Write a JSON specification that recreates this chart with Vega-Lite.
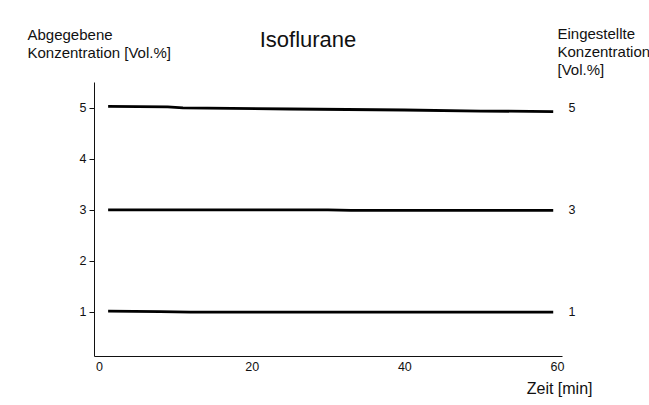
{
  "$schema": "https://vega.github.io/schema/vega-lite/v6.json",
  "width": 468,
  "height": 274,
  "autosize": {"type": "none"},
  "padding": {"left": 94, "top": 82, "right": 87, "bottom": 49},
  "background": "white",
  "config": {
    "font": "Liberation Sans",
    "view": {"stroke": null},
    "axis": {
      "grid": false,
      "domainColor": "#111",
      "domainWidth": 1,
      "tickColor": "#111",
      "labelColor": "#111",
      "titleColor": "#111",
      "labelFont": "Liberation Sans",
      "titleFont": "Liberation Sans",
      "labelFontSize": 12.5,
      "titleFontWeight": "normal"
    }
  },
  "title": {
    "text": "Isoflurane",
    "fontSize": 22,
    "fontWeight": "normal",
    "color": "#111",
    "anchor": "middle",
    "frame": "group",
    "dx": -20,
    "offset": -43,
    "baseline": "alphabetic"
  },
  "data": {
    "values": [
      {"t": 1.2, "c": 5.03, "set": 5},
      {"t": 9, "c": 5.02, "set": 5},
      {"t": 11, "c": 5.0, "set": 5},
      {"t": 25, "c": 4.98, "set": 5},
      {"t": 40, "c": 4.96, "set": 5},
      {"t": 50, "c": 4.94, "set": 5},
      {"t": 59.5, "c": 4.93, "set": 5},
      {"t": 1.2, "c": 3.0, "set": 3},
      {"t": 30, "c": 3.0, "set": 3},
      {"t": 33, "c": 2.99, "set": 3},
      {"t": 59.5, "c": 2.99, "set": 3},
      {"t": 1.2, "c": 1.01, "set": 1},
      {"t": 8, "c": 1.0, "set": 1},
      {"t": 12, "c": 0.99, "set": 1},
      {"t": 59.5, "c": 0.99, "set": 1}
    ]
  },
  "resolve": {"axis": {"y": "independent"}},
  "layer": [
    {
      "mark": {"type": "line", "color": "#000", "strokeWidth": 2.8},
      "encoding": {
        "x": {
          "field": "t",
          "type": "quantitative",
          "scale": {"domain": [-0.65, 60.65], "nice": false, "zero": false},
          "axis": {
            "values": [0, 20, 40, 60],
            "ticks": false,
            "tickSize": 0,
            "labelPadding": 4,
            "labelFlush": false,
            "title": "Zeit [min]",
            "titleFontSize": 16,
            "titleAnchor": null,
            "titleAlign": "right",
            "titleBaseline": "alphabetic",
            "titleX": 498,
            "titleY": 37
          }
        },
        "y": {
          "field": "c",
          "type": "quantitative",
          "scale": {"domain": [0.13, 5.51], "nice": false, "zero": false},
          "axis": {
            "orient": "left",
            "values": [1, 2, 3, 4, 5],
            "tickSize": 5,
            "labelPadding": 3,
            "title": ["Abgegebene", "Konzentration [Vol.%]"],
            "titleFontSize": 15,
            "titleLineHeight": 18,
            "titleAngle": 0,
            "titleAlign": "left",
            "titleBaseline": "top",
            "titleX": -67,
            "titleY": -55
          }
        },
        "detail": {"field": "set", "type": "nominal"}
      }
    },
    {
      "mark": {"type": "line", "opacity": 0},
      "encoding": {
        "x": {"field": "t", "type": "quantitative"},
        "y": {
          "field": "c",
          "type": "quantitative",
          "axis": {
            "orient": "right",
            "values": [1, 3, 5],
            "domain": false,
            "ticks": false,
            "tickSize": 0,
            "labelPadding": 6,
            "title": ["Eingestellte", "Konzentration", "[Vol.%]"],
            "titleFontSize": 15,
            "titleLineHeight": 18,
            "titleAngle": 0,
            "titleAlign": "left",
            "titleBaseline": "top",
            "titleX": -5,
            "titleY": -56
          }
        },
        "detail": {"field": "set", "type": "nominal"}
      }
    }
  ]
}
